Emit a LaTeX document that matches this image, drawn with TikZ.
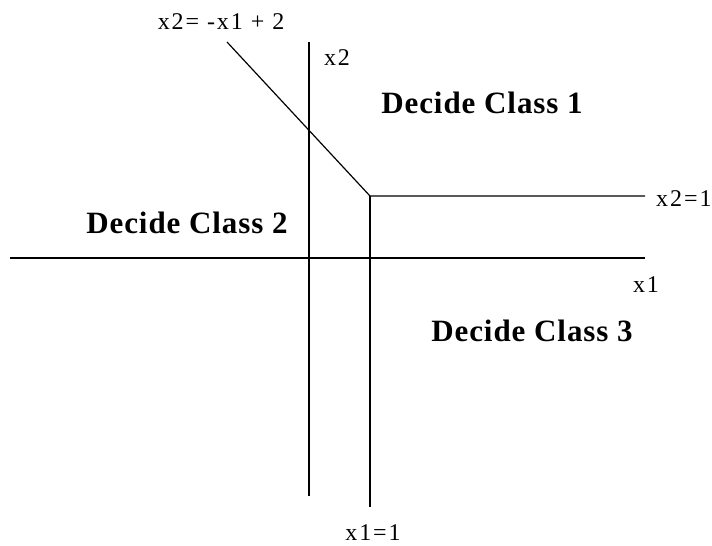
\documentclass[tikz,border=0pt]{standalone}
\usepackage{fontspec}
\setmainfont{Liberation Serif}
\newfontfamily\axisfont[LetterSpace=8]{Liberation Serif}
\newfontfamily\regionfont[LetterSpace=3]{Liberation Serif}
\begin{document}
\begin{tikzpicture}[x=1pt,y=-1pt,
  boundary/.style={line width=1.2pt,black},
  axislabel/.style={inner sep=0pt,font=\axisfont\fontsize{24}{27}\selectfont},
  regionlabel/.style={inner sep=0pt,font=\regionfont\fontsize{31}{34}\selectfont\bfseries}]
\useasboundingbox (0,0) rectangle (712,546);
% coordinates
\coordinate (hl) at (10,258);
\coordinate (hr) at (645,258);
\coordinate (vt) at (309,42);
\coordinate (vb) at (309,496);
\coordinate (dtop) at (227,42);
\coordinate (corner) at (370,196);
\coordinate (x1b) at (370,507);
\coordinate (x2r) at (645,196);
% lines
\draw[boundary] (hl) -- (hr);
\draw[boundary] (vt) -- (vb);
\draw[boundary] (dtop) -- (corner) -- (x2r);
\draw[boundary] (corner) -- (x1b);
% labels
\node[axislabel] (ldiag) at (221,22) {x2= -x1 + 2};
\node[axislabel] (lx2) at (337,58) {x2};
\node[axislabel,anchor=west] (lx2eq) at (656,199) {x2=1};
\node[axislabel] (lx1) at (646,285) {x1};
\node[axislabel] (lx1eq) at (373,533) {x1=1};
\node[regionlabel] (c1) at (482,103) {Decide Class 1};
\node[regionlabel] (c2) at (187,223) {Decide Class 2};
\node[regionlabel] (c3) at (532,331) {Decide Class 3};
\end{tikzpicture}
\end{document}
